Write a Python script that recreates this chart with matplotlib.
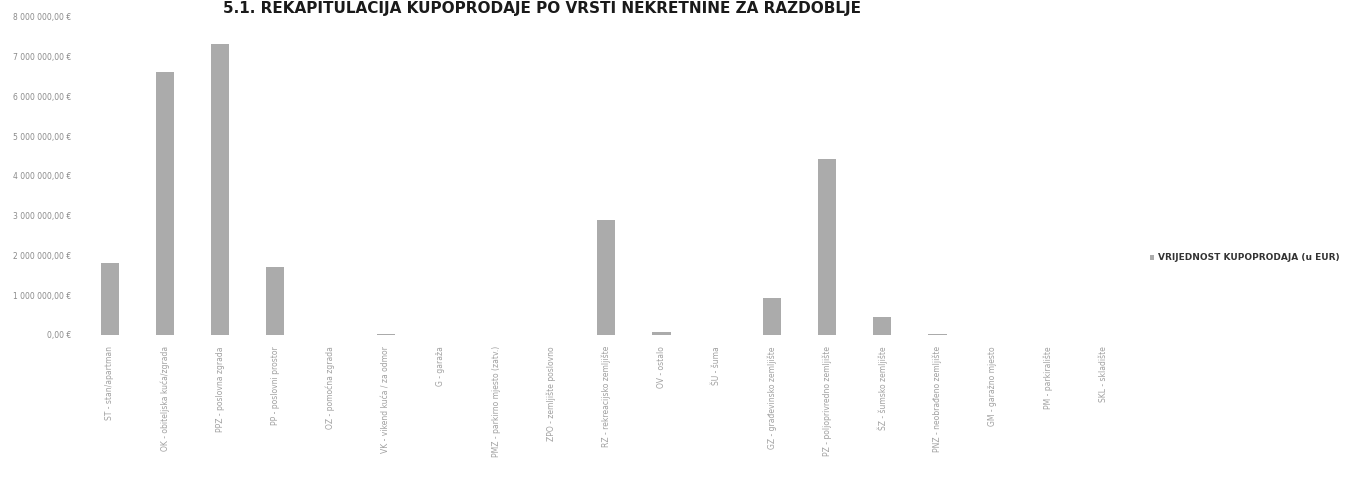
import numpy as np
import matplotlib
matplotlib.use("Agg")
import matplotlib.pyplot as plt
from matplotlib.ticker import FuncFormatter

# categories (vrsta nekretnine) and sale value in EUR
categories = [
    "ST - stan/apartman",
    "OK - obiteljska kuća/zgrada",
    "PPZ - poslovna zgrada",
    "PP - poslovni prostor",
    "OZ - pomoćna zgrada",
    "VK - vikend kuća / za odmor",
    "G - garaža",
    "PMZ - parkirno mjesto (zatv.)",
    "ZPO - zemljište poslovno",
    "RZ - rekreacijsko zemljište",
    "OV - ostalo",
    "ŠU - šuma",
    "GZ - građevinsko zemljište",
    "PZ - poljoprivredno zemljište",
    "ŠZ - šumsko zemljište",
    "PNZ - neobrađeno zemljište",
    "GM - garažno mjesto",
    "PM - parkiralište",
    "SKL - skladište",
]
values = [1820000, 6620000, 7330000, 1720000, 0, 25000, 0, 0, 0,
          2880000, 80000, 0, 920000, 4420000, 440000, 30000, 0, 0, 0]
series_name = "VRIJEDNOST KUPOPRODAJA (u EUR)"
title = "5.1. REKAPITULACIJA KUPOPRODAJE PO VRSTI NEKRETNINE ZA RAZDOBLJE"

fig = plt.figure(figsize=(13.46, 4.84), dpi=100)
ax = fig.add_axes([0.061, 0.308, 0.779, 0.657])

x = np.arange(len(categories))
bars = ax.bar(x, values, width=0.33, color="#ababab", label=series_name)

ax.set_xlim(-0.5, len(categories) - 0.5)
ax.set_ylim(0, 8000000)
ax.set_yticks(np.arange(0, 8000001, 1000000))
ax.yaxis.set_major_formatter(FuncFormatter(
    lambda v, p: "0,00 €" if v == 0 else "{:,.0f}".format(v).replace(",", " ") + ",00 €"))
ax.set_xticks(x)
ax.set_xticklabels(categories, rotation=90, fontsize=5.5, color="#a0a0a0",
                   va="top", ha="center")
ax.tick_params(axis="y", labelsize=5.5, labelcolor="#8a8a8a", length=0, pad=8)
ax.tick_params(axis="x", length=0, pad=8)
for s in ax.spines.values():
    s.set_visible(False)

fig.text(0.403, 0.982, title, ha="center", va="center", fontsize=11,
         fontweight="bold", color="#1a1a1a")

fig.legend(handles=[bars], labels=[series_name], loc="center left",
           bbox_to_anchor=(0.848, 0.467), frameon=False,
           handlelength=0.5, handleheight=0.5, handletextpad=0.4,
           labelcolor="#333333", prop={"weight": "bold", "size": 6.5})

fig.savefig("out.png", dpi=100)
